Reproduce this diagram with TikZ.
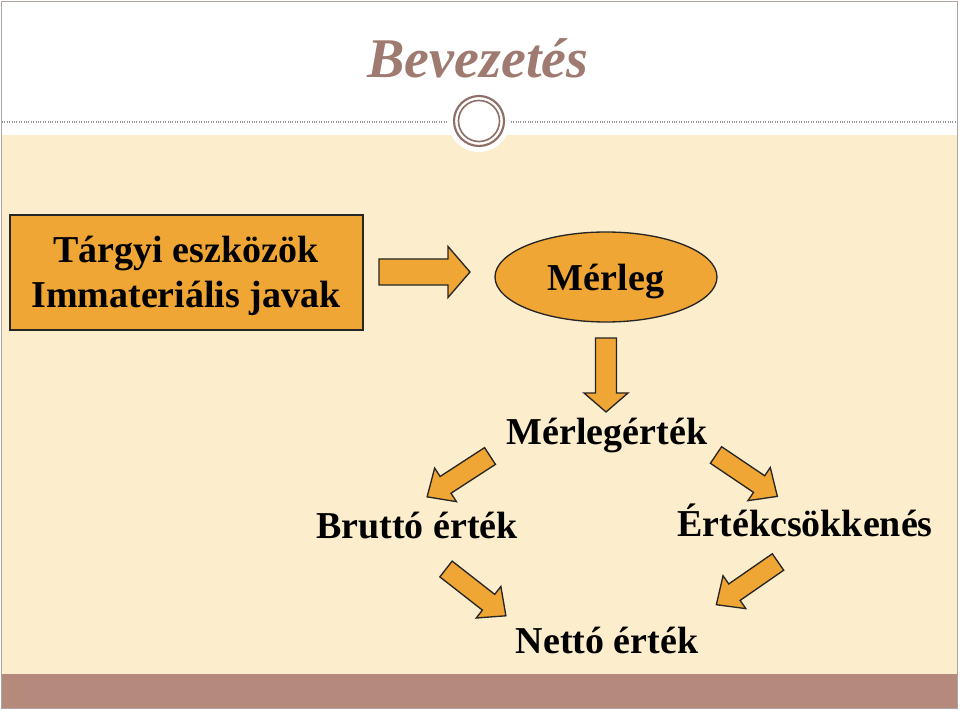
\documentclass[tikz,border=0pt]{standalone}
\usepackage{fontspec}
\setmainfont{Liberation Serif}
\usetikzlibrary{shapes.geometric}
\definecolor{cream}{RGB}{252,237,204}
\definecolor{band}{RGB}{182,137,125}
\definecolor{ttl}{RGB}{158,122,112}
\definecolor{orng}{RGB}{239,166,52}
\definecolor{framec}{RGB}{175,165,160}
\tikzset{
  lbl/.style={font=\bfseries\fontsize{28.5}{34}\selectfont, anchor=base, inner sep=0pt},
  barrow/.style={fill=orng, draw=black!85, line width=1pt, line join=miter},
  ring/.style={draw=ttl!90!black},
}
\begin{document}
\begin{tikzpicture}[x=0.75pt,y=-0.75pt]
  \useasboundingbox (0,0) rectangle (960,712);
  % background
  \fill[white] (0,0) rectangle (960,712);
  \fill[cream] (2,135) rectangle (957,674);
  \fill[band] (2,674) rectangle (957,708);
  \draw[framec, line width=1pt] (1.5,1.5) rectangle (957.5,708.5);
  \draw[gray!80, densely dotted, line width=0.8pt] (2,122) -- (957,122);
  \fill[white] (479,121) circle (23.25pt);
  \draw[ring, line width=1.6pt] (479,121) circle (18.75pt);
  \draw[ring, line width=1.2pt] (479,121) circle (15.4pt);
  \node[font=\bfseries\itshape\fontsize{42}{48}\selectfont, text=ttl, anchor=base, inner sep=0pt] (title) at (478,78) {Bevezetés};
  % boxes
  \node[draw=black!85, fill=orng, line width=1pt, minimum width=264.75pt, minimum height=86.25pt] (eszkozok) at (186.5,272.5) {};
  \node[lbl] (targyi) at (186,263) {Tárgyi eszközök};
  \node[lbl] (immat) at (186,308) {Immateriális javak};
  \node[ellipse, draw=black!85, fill=orng, line width=1pt, minimum width=166.5pt, minimum height=67.5pt] (merleg) at (606,277) {};
  \node[lbl] (merlegtxt) at (606,291) {Mérleg};
  \node[lbl] (merlegertek) at (607,445) {Mérlegérték};
  \node[lbl] (brutto) at (417,538) {Bruttó érték};
  \node[lbl] (ecs) at (805,537) {Értékcsökkenés};
  \node[lbl] (netto) at (607,653) {Nettó érték};
  % arrows
  \draw[barrow, shift={(379,272)}] (0,-13) -- (69,-13) -- (69,-25.5) -- (91,0) -- (69,25.5) -- (69,13) -- (0,13) -- cycle;
  \draw[barrow, shift={(606,338)}, rotate=-90] (0,-10.5) -- (55,-10.5) -- (55,-22) -- (74,0) -- (55,22) -- (55,10.5) -- (0,10.5) -- cycle;
  \draw[barrow, shift={(490,456)}, rotate=213] (0,-10) -- (53,-10) -- (53,-20) -- (75,0) -- (53,20) -- (53,10) -- (0,10) -- cycle;
  \draw[barrow, shift={(716,455)}, rotate=-34] (0,-10) -- (52,-10) -- (52,-20) -- (74,0) -- (52,20) -- (52,10) -- (0,10) -- cycle;
  \draw[barrow, shift={(446,569)}, rotate=-38] (0,-10) -- (54,-10) -- (54,-20) -- (76,0) -- (54,20) -- (54,10) -- (0,10) -- cycle;
  \draw[barrow, shift={(778,562)}, rotate=214.7] (0,-10) -- (53,-10) -- (53,-20) -- (75,0) -- (53,20) -- (53,10) -- (0,10) -- cycle;
\end{tikzpicture}
\end{document}
